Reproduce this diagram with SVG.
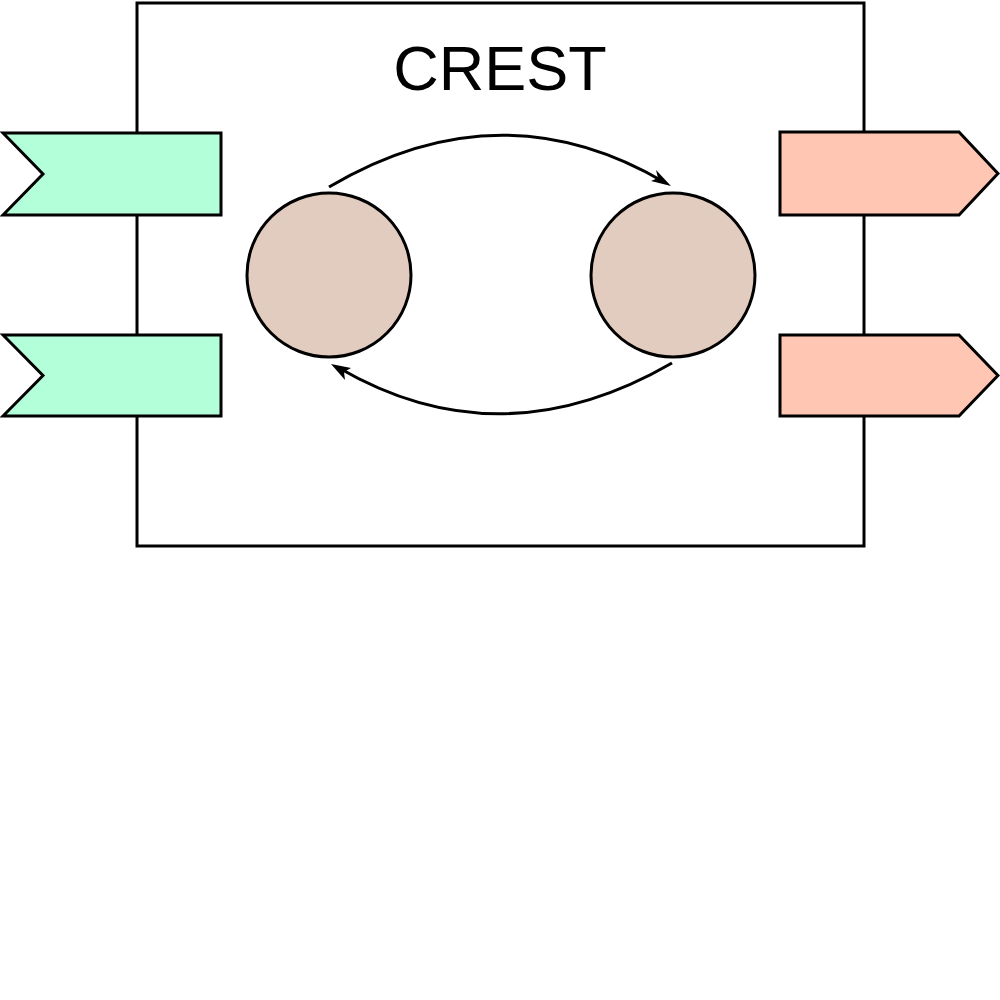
<svg xmlns="http://www.w3.org/2000/svg" width="1000" height="1000" viewBox="0 0 1000 1000">
<style>
.sh{stroke:#000;stroke-width:3}
.in{fill:#b3ffd9}
.out{fill:#ffc6b3}
.st{fill:#e2cbbf}
.edge{fill:none;stroke:#000;stroke-width:3}
.lbl{font-family:"Liberation Sans",Arial,sans-serif;font-size:63px;fill:#000}
</style>
<defs>
<marker id="ah" viewBox="0 0 10 10" refX="9" refY="5" markerWidth="6" markerHeight="6" markerUnits="userSpaceOnUse" orient="auto" style="overflow:visible">
<path d="M0,0 L10,5 L0,10 L3,5 Z" fill="#000" transform="scale(2) translate(-5,0)"/>
</marker>
</defs>
<rect width="1000" height="1000" fill="#fff"/>
<g id="crest">
<rect x="137" y="3" width="727" height="543" fill="#fff" class="sh" stroke-width="2.5"/>
<text x="500" y="90" text-anchor="middle" class="lbl">CREST</text>
</g>
<g id="in1"><polygon class="sh in" points="3,133 221,133 221,215 3,215 43,174"/></g>
<g id="in2"><polygon class="sh in" points="3,335 221,335 221,416 3,416 43,375.5"/></g>
<g id="out1"><polygon class="sh out" points="780,132 959,132 998,173.5 959,215 780,215"/></g>
<g id="out2"><polygon class="sh out" points="780,335 959,335 998,375.5 959,416 780,416"/></g>
<g id="s1"><circle class="sh st" cx="329" cy="275" r="82"/></g>
<g id="s2"><circle class="sh st" cx="673" cy="275" r="82"/></g>
<g id="connectors">
<path class="edge" d="M329,187 Q500,86 664,182"/>
<polygon points="671,186 651,181 658,178 656,170" fill="#000"/>
<path class="edge" d="M672,363 Q501,462 339,368"/>
<polygon points="331,364 351,368 344,372 345,380" fill="#000"/>
</g>
</svg>
